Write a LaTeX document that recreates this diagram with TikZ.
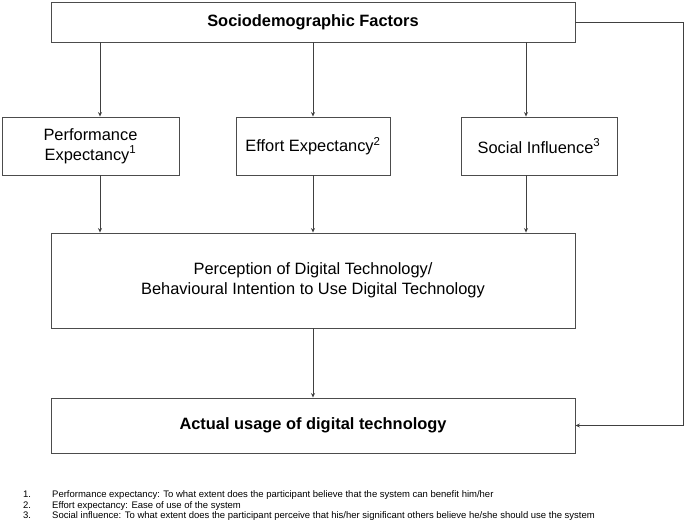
\documentclass[tikz,border=0pt]{standalone}
\usepackage{fontspec}
\setmainfont{Liberation Sans}
\usetikzlibrary{arrows.meta}
\newcommand{\boxfont}{\fontsize{16.4}{20}\selectfont}
\newcommand{\notefont}{\fontsize{9.5}{10.5}\selectfont}

\begin{document}
\begin{tikzpicture}[x=1pt, y=-1pt,
		caja/.style={draw=black!70, line width=0.9pt, inner sep=0pt, align=center, font=\boxfont},
		flecha/.style={draw=black!75, line width=0.8pt, -{Stealth[length=4.5pt,width=4pt]}},
		nota/.style={anchor=base west, inner sep=0pt, font=\notefont}]
		\useasboundingbox (0,0) rectangle (685,527);
		\node[caja, minimum width=524, minimum height=40] (sdf) at (313,22) {\bfseries Sociodemographic Factors};
		\node[caja, minimum width=177, minimum height=58] (pe) at (90.5,146) {Performance\\Expectancy\textsuperscript{1}};
		\node[caja, minimum width=154, minimum height=58] (ee) at (313,146) {Effort Expectancy\textsuperscript{2}};
		\node[caja, minimum width=156, minimum height=58] (si) at (539,146) {Social Influence\textsuperscript{3}};
		\node[caja, minimum width=524, minimum height=95] (pdt) at (313,280.5) {Perception of Digital Technology/\\Behavioural Intention to Use Digital Technology};
		\node[caja, minimum width=524, minimum height=55] (act) at (313,425.5) {\bfseries Actual usage of digital technology};
		%columnas de las flechas
		\coordinate (c1) at (100,0);
		\coordinate (c2) at (313,0);
		\coordinate (c3) at (526,0);
		\coordinate (rc) at (683,0);
		\draw[flecha] (sdf.south -| c1) -- (pe.north -| c1);
		\draw[flecha] (sdf.south -| c2) -- (ee.north -| c2);
		\draw[flecha] (sdf.south -| c3) -- (si.north -| c3);
		\draw[flecha] (pe.south -| c1) -- (pdt.north -| c1);
		\draw[flecha] (ee.south -| c2) -- (pdt.north -| c2);
		\draw[flecha] (si.south -| c3) -- (pdt.north -| c3);
		\draw[flecha] (pdt.south) -- (act.north);
		\draw[flecha] (sdf.east) -| (rc |- act.east) -- (act.east);
		%notas
		\node[nota] (n1) at (23,497) {1.};
		\node[nota] (t1) at (52,497) {Performance expectancy: To what extent does the participant believe that the system can benefit him/her};
		\node[nota] (n2) at (23,508) {2.};
		\node[nota] (t2) at (52,508) {Effort expectancy: Ease of use of the system};
		\node[nota] (n3) at (23,518.5) {3.};
		\node[nota] (t3) at (52,518.5) {Social influence: To what extent does the participant perceive that his/her significant others believe he/she should use the system};
	\end{tikzpicture}
\end{document}
